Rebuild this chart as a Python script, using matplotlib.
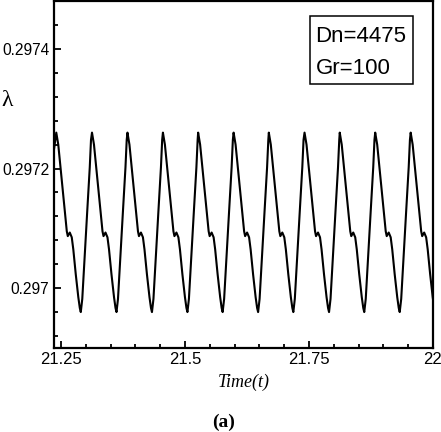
import numpy as np
import matplotlib
matplotlib.use("Agg")
import matplotlib.pyplot as plt
from matplotlib.patches import Rectangle
from matplotlib.ticker import MultipleLocator

# times of the peaks
peak_t = [21.2405, 21.3125, 21.3840, 21.4555, 21.5265, 21.5980,
          21.6690, 21.7410, 21.8120, 21.8835, 21.9550]

# one oscillation, offsets from its peak (all cycles look the same)
cycle_dt = [0.0, 0.0040, 0.0101, 0.0161, 0.0212, 0.0232, 0.0272, 0.0312,
            0.0343, 0.0393, 0.0444, 0.0474, 0.0494, 0.0524, 0.0575,
            0.0625, 0.0675, 0.0700]
cycle_lam = [0.29726, 0.297240, 0.297188, 0.297135, 0.297095, 0.297087,
             0.297093, 0.297085, 0.297065, 0.297023, 0.296985, 0.296967,
             0.296960, 0.296982, 0.297058, 0.297130, 0.297202, 0.297248]

start_t, start_lam = 21.2359, 0.297232

xticks = [21.25, 21.5, 21.75, 22.0]
xlabels = ["21.25", "21.5", "21.75", "22"]
yticks = [0.2970, 0.2972, 0.2974]
ylabels = ["0.297", "0.2972", "0.2974"]

t = [start_t]
lam = [start_lam]
for pk in peak_t:
    t += [pk + d for d in cycle_dt]
    lam += cycle_lam

plt.rcParams['font.family'] = ['Liberation Sans', 'DejaVu Sans']

fig = plt.figure(figsize=(4.41, 4.32), dpi=100)
ax = fig.add_axes([54 / 441, 1 - 348 / 432, 379 / 441, 347 / 432])

ax.plot(t, lam, c='k', lw=1.5)

ax.set_xlim(21.2359, 22.0)
ax.set_ylim(0.29690, 0.29748)

ax.set_xticks(xticks)
ax.set_xticklabels(xlabels)
ax.set_yticks(yticks)
ax.set_yticklabels(ylabels)
ax.xaxis.set_minor_locator(MultipleLocator(0.05))
ax.yaxis.set_minor_locator(MultipleLocator(0.00004))
ax.tick_params(which='both', direction='in', width=1.3,
               top=False, right=False)
ax.tick_params(which='major', length=5)
ax.tick_params(which='minor', length=3)
ax.tick_params(axis='x', pad=3, labelsize=12)
ax.tick_params(axis='y', pad=3.5, labelsize=11.2)
for s in ax.spines.values():
    s.set_linewidth(1.6)

# parameter box
ax.add_patch(Rectangle((0.675, 0.761), 0.272, 0.196, transform=ax.transAxes,
                       fc='white', ec='k', lw=1.1, zorder=3))
ax.text(0.690, 1 - 35 / 347, "Dn=4475", transform=ax.transAxes,
        fontsize=16, va='center', ha='left', zorder=4)
ax.text(0.690, 1 - 68 / 347, "Gr=100", transform=ax.transAxes,
        fontsize=16, va='center', ha='left', zorder=4)

fig.text(7 / 441, 1 - 100 / 432, "λ", fontsize=17, family='Liberation Serif',
         ha='center', va='center')
fig.text(244 / 441, 1 - 382 / 432, "Time(t)", fontsize=13,
         family='Liberation Serif', style='italic', ha='center', va='center')
fig.text(224 / 441, 1 - 422 / 432, "(a)", fontsize=14,
         family='Liberation Serif', weight='bold', ha='center', va='center')

fig.savefig("out.png", dpi=100)
